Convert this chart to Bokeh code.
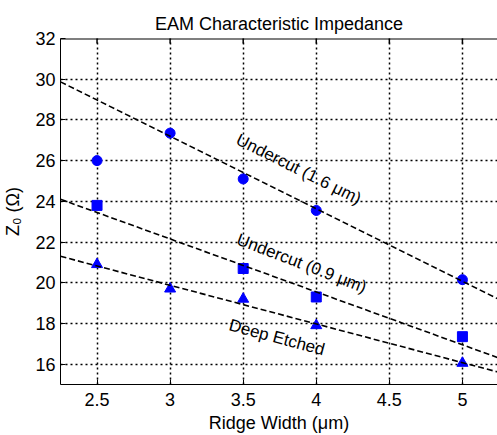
import math
from bokeh.plotting import figure
from bokeh.models import LinearAxis, FixedTicker, Range1d, ColumnDataSource, Grid
from bokeh.core.properties import value
from bokeh.embed import file_html
from bokeh.resources import INLINE

# ---- data ----
x_ticks = [2.5, 3, 3.5, 4, 4.5, 5]
y_ticks = [16, 18, 20, 22, 24, 26, 28, 30, 32]

x_uc16 = [2.5, 3.0, 3.5, 4.0, 5.0]
z_uc16 = [26.0, 27.35, 25.1, 23.55, 20.15]

x_uc09 = [2.5, 3.5, 4.0, 5.0]
z_uc09 = [23.8, 20.7, 19.3, 17.35]

x_deep = [2.5, 3.0, 3.5, 4.0, 5.0]
z_deep = [20.9, 19.7, 19.2, 17.9, 16.05]

fit_x = [2.25, 5.25]
fit_uc16 = [29.87, 19.18]
fit_uc09 = [24.1, 16.3]
fit_deep = [21.3, 15.6]

label_text = ["Undercut (1.6 μm)", "Undercut (0.9 μm)", "Deep Etched"]
label_x = [3.88, 3.9, 3.73]
label_y = [25.58, 20.95, 17.31]
label_angle_deg = [-26.5, -21.0, -15.0]

FONT = "Liberation Sans"
Y_MIN, Y_MAX = 15, 32

p = figure(width=497, height=435, output_backend="svg", toolbar_location=None,
           x_range=Range1d(2.25, 5.24), y_range=Range1d(Y_MIN, Y_MAX),
           min_border_left=60, min_border_right=0, min_border_top=38, min_border_bottom=51,
           title="EAM Characteristic Impedance")
p.outline_line_color = None

p.title.align = "center"
p.title.text_font = FONT
p.title.text_font_size = "18px"
p.title.text_font_style = "normal"
p.title.text_color = "black"

p.xaxis.ticker = x_ticks
p.yaxis.ticker = y_ticks
for ax in (p.xaxis[0], p.yaxis[0]):
    ax.axis_line_color = "black"
    ax.axis_line_width = 1
    ax.major_tick_in = 5
    ax.major_tick_out = 0
    ax.minor_tick_line_color = None
    ax.major_tick_line_color = "black"
    ax.major_label_text_font = FONT
    ax.major_label_text_font_size = "18px"
    ax.major_label_text_color = "black"
    ax.axis_label_text_font = FONT
    ax.axis_label_text_font_size = "18px"
    ax.axis_label_text_font_style = "normal"
    ax.axis_label_text_color = "black"
p.xaxis.axis_label = "Ridge Width (μm)"
p.yaxis.axis_label = "Z₀ (Ω)"
p.xaxis.major_label_standoff = 8
p.xaxis.axis_label_standoff = 4
p.yaxis.major_label_standoff = 5
p.yaxis.axis_label_standoff = 9

p.xgrid.grid_line_color = "black"
p.ygrid.grid_line_color = "black"
p.xgrid.grid_line_width = 1.5
p.ygrid.grid_line_width = 1.5
p.xgrid.grid_line_dash = "2 3"
p.ygrid.grid_line_dash = "2 3"
p.xgrid.grid_line_alpha = 1
p.ygrid.grid_line_alpha = 1

# top box edge with inward ticks (Matlab "box on")
p.hspan(y=[Y_MAX], line_color="black", line_width=2)
p.scatter(x_ticks, [Y_MAX] * len(x_ticks), marker="dash", angle=math.pi / 2,
          size=10, line_color="black", line_width=1.5)

# markers
p.scatter(x_uc16, z_uc16, marker="circle", size=10, color="#0000ff")
p.scatter(x_uc09, z_uc09, marker="square", size=10, color="#0000ff")
p.scatter(x_deep, z_deep, marker="triangle", size=11, color="#0000ff")

# fit lines
for fy in (fit_uc16, fit_uc09, fit_deep):
    p.line(fit_x, fy, line_color="black", line_width=1.6, line_dash="6 3")

src = ColumnDataSource(dict(x=label_x, y=label_y, t=label_text,
                            a=[math.radians(d) for d in label_angle_deg]))
p.text(x="x", y="y", text="t", angle="a", source=src,
       text_font=value(FONT), text_font_size="17px", text_color="black",
       text_align="center", text_baseline="middle")

open("out.html", "w").write(file_html(p, INLINE))
